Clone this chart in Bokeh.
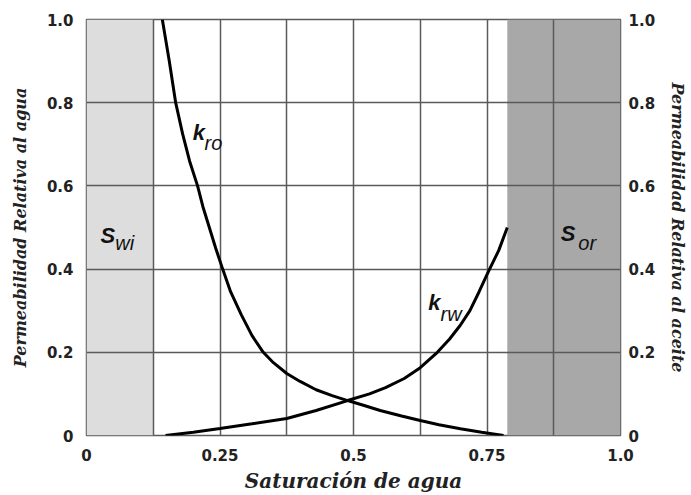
from bokeh.plotting import figure
from bokeh.models import FixedTicker, LinearAxis, Range1d, Label
from bokeh.embed import file_html
from bokeh.resources import INLINE

# ---- data ----
sw_kro = [0.142, 0.155, 0.167, 0.180, 0.193, 0.208, 0.218, 0.230, 0.242, 0.255, 0.270, 0.290, 0.310, 0.331, 0.350, 0.375, 0.400, 0.430, 0.460, 0.489, 0.520, 0.550, 0.590, 0.625, 0.660, 0.700, 0.740, 0.781]
kro = [1.000, 0.900, 0.800, 0.725, 0.660, 0.600, 0.550, 0.500, 0.450, 0.400, 0.345, 0.290, 0.240, 0.200, 0.175, 0.149, 0.130, 0.110, 0.096, 0.084, 0.072, 0.060, 0.047, 0.036, 0.026, 0.016, 0.008, 0.000]

sw_krw = [0.148, 0.200, 0.250, 0.310, 0.375, 0.430, 0.489, 0.530, 0.560, 0.595, 0.625, 0.657, 0.680, 0.700, 0.718, 0.735, 0.753, 0.772, 0.788]
krw = [0.000, 0.008, 0.017, 0.028, 0.041, 0.060, 0.084, 0.100, 0.115, 0.137, 0.163, 0.200, 0.232, 0.265, 0.300, 0.345, 0.395, 0.445, 0.500]

swi_zone = [0.0, 0.125]
sor_zone = [0.788, 1.0]

x_ticks = [0, 0.25, 0.5, 0.75, 1.0]
x_tick_labels = ["0", "0.25", "0.5", "0.75", "1.0"]
y_ticks = [0, 0.2, 0.4, 0.6, 0.8, 1.0]
y_tick_labels = ["0", "0.2", "0.4", "0.6", "0.8", "1.0"]
x_grid = [0.125, 0.25, 0.375, 0.5, 0.625, 0.75, 0.875]
y_grid = [0.2, 0.4, 0.6, 0.8]

GRID = "#5a5a5a"
TICKFONT = "DejaVu Sans"
LABFONT = "DejaVu Serif"

p = figure(width=691, height=495, x_range=Range1d(0, 1), y_range=Range1d(0, 1),
           output_backend="svg", toolbar_location=None,
           min_border_left=86, min_border_right=71, min_border_top=19, min_border_bottom=60,
           background_fill_color="white", border_fill_color="white")

p.outline_line_color = GRID
p.outline_line_width = 1.5

# shaded zones
p.quad(left=[swi_zone[0]], right=[swi_zone[1]], bottom=[0], top=[1],
       fill_color="#dddddd", line_color=None, level="image")
p.quad(left=[sor_zone[0]], right=[sor_zone[1]], bottom=[0], top=[1],
       fill_color="#a8a8a8", line_color=None, level="image")

# grid
p.xgrid.ticker = FixedTicker(ticks=x_grid)
p.ygrid.ticker = FixedTicker(ticks=y_grid)
for g in (p.xgrid, p.ygrid):
    g.grid_line_color = GRID
    g.grid_line_width = 1.5
    g.level = "underlay"

# curves
p.line(sw_kro, kro, line_color="black", line_width=3)
p.line(sw_krw, krw, line_color="black", line_width=3)

def style_axis(ax, ticks, labels, standoff):
    ax.ticker = FixedTicker(ticks=ticks)
    ax.major_label_overrides = {t: l for t, l in zip(ticks, labels)}
    ax.axis_line_color = None
    ax.major_tick_line_color = None
    ax.minor_tick_line_color = None
    ax.major_tick_out = 0
    ax.major_tick_in = 0
    ax.minor_tick_out = 0
    ax.minor_tick_in = 0
    ax.major_label_text_font = TICKFONT
    ax.major_label_text_font_style = "bold"
    ax.major_label_text_font_size = "15px"
    ax.major_label_text_color = "#222222"
    ax.major_label_standoff = standoff
    ax.axis_label_text_font = LABFONT
    ax.axis_label_text_font_style = "bold italic"
    ax.axis_label_text_color = "#222222"

style_axis(p.xaxis[0], x_ticks, x_tick_labels, 13)
p.xaxis[0].axis_label = "Saturación de agua"
p.xaxis[0].axis_label_text_font_size = "20px"
p.xaxis[0].axis_label_standoff = 5

style_axis(p.yaxis[0], y_ticks, y_tick_labels, 13)
p.yaxis[0].axis_label = "Permeabilidad Relativa al agua"
p.yaxis[0].axis_label_text_font_size = "16px"
p.yaxis[0].axis_label_standoff = 14

right = LinearAxis()
style_axis(right, y_ticks, y_tick_labels, 8)
right.axis_label = "Permeabilidad Relativa al aceite"
right.axis_label_text_font_size = "16px"
right.axis_label_standoff = 10
p.add_layout(right, "right")

def lab(x, y, t, size, style):
    p.add_layout(Label(x=x, y=y, text=t, text_font="Liberation Sans", text_font_size=size,
                       text_font_style=style, text_baseline="alphabetic", text_color="#111111"))

lab(0.199, 0.728, "k", "22px", "bold italic")
lab(0.221, 0.702, "ro", "20px", "italic")
lab(0.640, 0.320, "k", "22px", "bold italic")
lab(0.663, 0.293, "rw", "20px", "italic")
lab(0.026, 0.481, "S", "22px", "bold italic")
lab(0.054, 0.462, "wi", "20px", "italic")
lab(0.888, 0.486, "S", "22px", "bold italic")
lab(0.921, 0.462, "or", "20px", "italic")

open("out.html", "w").write(file_html(p, INLINE))
